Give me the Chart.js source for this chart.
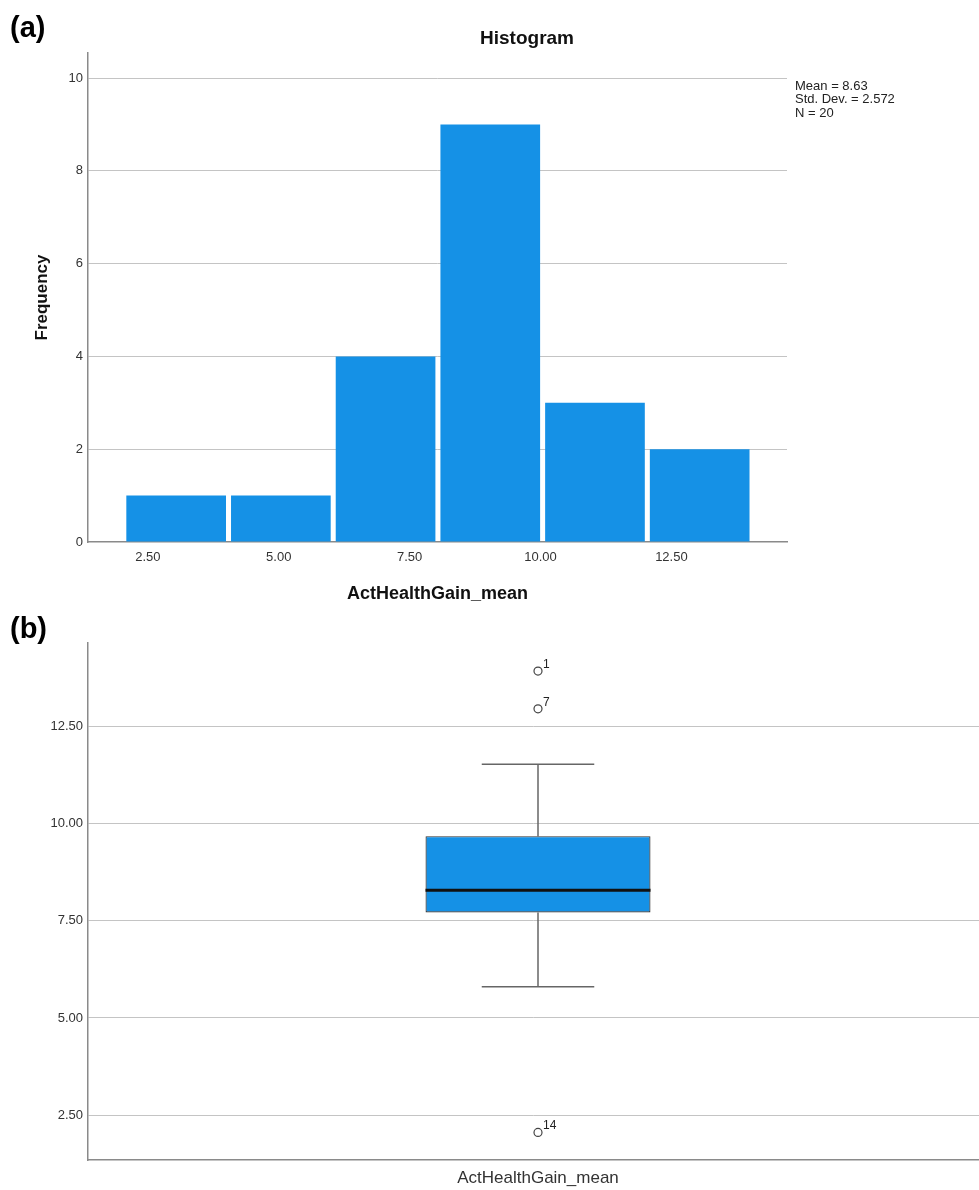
<!DOCTYPE html>
<html>
<head>
<meta charset="utf-8">
<script src="https://cdn.jsdelivr.net/npm/chart.js@4.4.0/dist/chart.umd.min.js"></script>
<style>
    html, body { margin: 0; padding: 0; background: #fff; }
    #page { position: relative; width: 979px; height: 1190px; overflow: hidden; }
    .panel { position: absolute; left: 10px; font: bold 29px "Liberation Sans", Arial, sans-serif; line-height: 1; color: #000; }
    #hist { position: absolute; left: 0; top: 0; }
    #box { position: absolute; left: 0; top: 610px; }
</style>
</head>
<body>
<div id="page">
    <canvas id="hist" width="979" height="610"></canvas>
    <canvas id="box" width="979" height="580"></canvas>
    <div class="panel" style="top: 13px;">(a)</div>
    <div class="panel" style="top: 614px;">(b)</div>
</div>
<script>
// histogram (a)
const binCenters = [3.04, 5.04, 7.04, 9.04, 11.04, 13.04];
const frequencies = [1, 1, 4, 9, 3, 2];
const histTicks = [2.5, 5, 7.5, 10, 12.5];
const freqTicks = [0, 2, 4, 6, 8, 10];
const statLines = ['Mean = 8.63', 'Std. Dev. = 2.572', 'N = 20'];

// boxplot (b)
const quartiles = [7.71, 8.28, 9.67];   // Q1, median, Q3
const whiskers = [5.80, 11.52];         // low, high
const outlierValues = [13.91, 12.94, 2.06];
const outlierLabels = ['1', '7', '14'];
const boxTicks = [2.5, 5, 7.5, 10, 12.5];
const boxCategory = 'ActHealthGain_mean';

const FONT = '"Liberation Sans", Arial, Helvetica, sans-serif';
const BLUE = '#1591e6';
const GRID = '#c4c4c4';
const AXIS = '#8a8a8a';

Chart.defaults.font.family = FONT;
Chart.defaults.color = '#333';

const histNotes = {
    id: 'histNotes',
    afterDraw(chart) {
        const ctx = chart.ctx;
        ctx.save();
        ctx.fillStyle = '#111';
        ctx.textBaseline = 'middle';
        ctx.textAlign = 'center';
        ctx.font = 'bold 19px ' + FONT;
        ctx.fillText('Histogram', 527, 39);
        ctx.textAlign = 'left';
        ctx.font = '13px ' + FONT;
        ctx.fillStyle = '#222';
        statLines.forEach((t, i) => ctx.fillText(t, 795, 86 + i * 13.5));
        ctx.restore();
    },
};

new Chart(document.getElementById('hist'), {
    type: 'bar',
    data: {
        datasets: [
            {
                data: binCenters.map((x, i) => ({ x: x, y: frequencies[i] })),
                backgroundColor: BLUE,
                borderWidth: 0,
                barPercentage: 0.952,
                categoryPercentage: 1,
            },
        ],
    },
    options: {
        responsive: false,
        animation: false,
        layout: { autoPadding: false, padding: { top: 53, right: 192, left: 0, bottom: 0 } },
        plugins: {
            legend: { display: false },
            tooltip: { enabled: false },
        },
        scales: {
            x: {
                type: 'linear',
                min: 1.356,
                max: 14.708,
                offset: false,
                grid: { display: false, offset: false, drawTicks: false },
                border: { display: true, color: AXIS, width: 1.5 },
                ticks: {
                    font: { size: 13 },
                    color: '#333',
                    padding: 8,
                    autoSkip: false,
                    maxRotation: 0,
                    callback: v => Number(v).toFixed(2),
                },
                afterBuildTicks: s => { s.ticks = histTicks.map(v => ({ value: v })); },
                afterFit: s => { s.height = 68; },
                title: {
                    display: true,
                    text: 'ActHealthGain_mean',
                    color: '#111',
                    font: { size: 18, weight: 'bold' },
                    padding: { top: 0, bottom: 5 },
                },
            },
            y: {
                min: 0,
                max: 10.54,
                grid: {
                    color: c => (c.tick && c.tick.value === 0 ? 'rgba(0,0,0,0)' : GRID),
                    lineWidth: 1,
                    drawTicks: false,
                },
                border: { display: true, color: AXIS, width: 1.5 },
                ticks: { font: { size: 13 }, color: '#333', padding: 5 },
                afterBuildTicks: s => { s.ticks = freqTicks.map(v => ({ value: v })); },
                afterFit: s => { s.width = 88; },
                title: {
                    display: true,
                    text: 'Frequency',
                    color: '#111',
                    font: { size: 17, weight: 'bold' },
                    padding: { top: 32, bottom: 0 },
                },
            },
        },
    },
    plugins: [histNotes],
});

const boxHalf = 0.25;
const capHalf = 0.125;
const xMin = -1;
const xMax = 0.98;

const outlierText = {
    id: 'outlierText',
    afterDatasetsDraw(chart) {
        const ctx = chart.ctx;
        const meta = chart.getDatasetMeta(1);
        ctx.save();
        ctx.font = '12px ' + FONT;
        ctx.fillStyle = '#222';
        ctx.textAlign = 'left';
        ctx.textBaseline = 'alphabetic';
        meta.data.forEach((pt, i) => ctx.fillText(outlierLabels[i], pt.x + 5, pt.y - 3));
        ctx.restore();
    },
};

const lineStyle = { type: 'line', borderColor: '#666', borderWidth: 1.5, pointRadius: 0, order: 3 };

new Chart(document.getElementById('box'), {
    type: 'scatter',
    data: {
        datasets: [
            {
                type: 'line',
                data: [{ x: -boxHalf, y: quartiles[1] }, { x: boxHalf, y: quartiles[1] }],
                borderColor: '#111',
                borderWidth: 3,
                pointRadius: 0,
                order: 0,
            },
            {
                type: 'scatter',
                data: outlierValues.map(y => ({ x: 0, y: y })),
                pointRadius: 4,
                pointBackgroundColor: '#fff',
                pointBorderColor: '#444',
                pointBorderWidth: 1.2,
                order: 0,
            },
            {
                type: 'bar',
                data: [{ x: 0, y: [quartiles[0], quartiles[2]] }],
                backgroundColor: BLUE,
                borderColor: '#333',
                borderWidth: 1.2,
                borderSkipped: false,
                barPercentage: (2 * boxHalf) / (xMax - xMin),
                categoryPercentage: 1,
                order: 2,
            },
            Object.assign({ data: [{ x: 0, y: quartiles[2] }, { x: 0, y: whiskers[1] }] }, lineStyle),
            Object.assign({ data: [{ x: 0, y: whiskers[0] }, { x: 0, y: quartiles[0] }] }, lineStyle),
            Object.assign({ data: [{ x: -capHalf, y: whiskers[1] }, { x: capHalf, y: whiskers[1] }] }, lineStyle),
            Object.assign({ data: [{ x: -capHalf, y: whiskers[0] }, { x: capHalf, y: whiskers[0] }] }, lineStyle),
        ],
    },
    options: {
        responsive: false,
        animation: false,
        layout: { autoPadding: false, padding: { top: 33, right: 0, left: 0, bottom: 0 } },
        plugins: {
            legend: { display: false },
            tooltip: { enabled: false },
        },
        scales: {
            x: {
                type: 'linear',
                min: xMin,
                max: xMax,
                offset: false,
                grid: { display: false, drawTicks: false },
                border: { display: true, color: AXIS, width: 1.5 },
                ticks: {
                    font: { size: 17 },
                    color: '#333',
                    padding: 8,
                    autoSkip: false,
                    maxRotation: 0,
                    callback: () => boxCategory,
                },
                afterBuildTicks: s => { s.ticks = [{ value: 0 }]; },
                afterFit: s => { s.height = 30; },
            },
            y: {
                min: 1.352,
                max: 14.632,
                grid: { color: GRID, lineWidth: 1, drawTicks: false },
                border: { display: true, color: AXIS, width: 1.5 },
                ticks: {
                    font: { size: 13 },
                    color: '#333',
                    padding: 5,
                    callback: v => Number(v).toFixed(2),
                },
                afterBuildTicks: s => { s.ticks = boxTicks.map(v => ({ value: v })); },
                afterFit: s => { s.width = 88; },
            },
        },
    },
    plugins: [outlierText],
});
</script>
</body>
</html>
